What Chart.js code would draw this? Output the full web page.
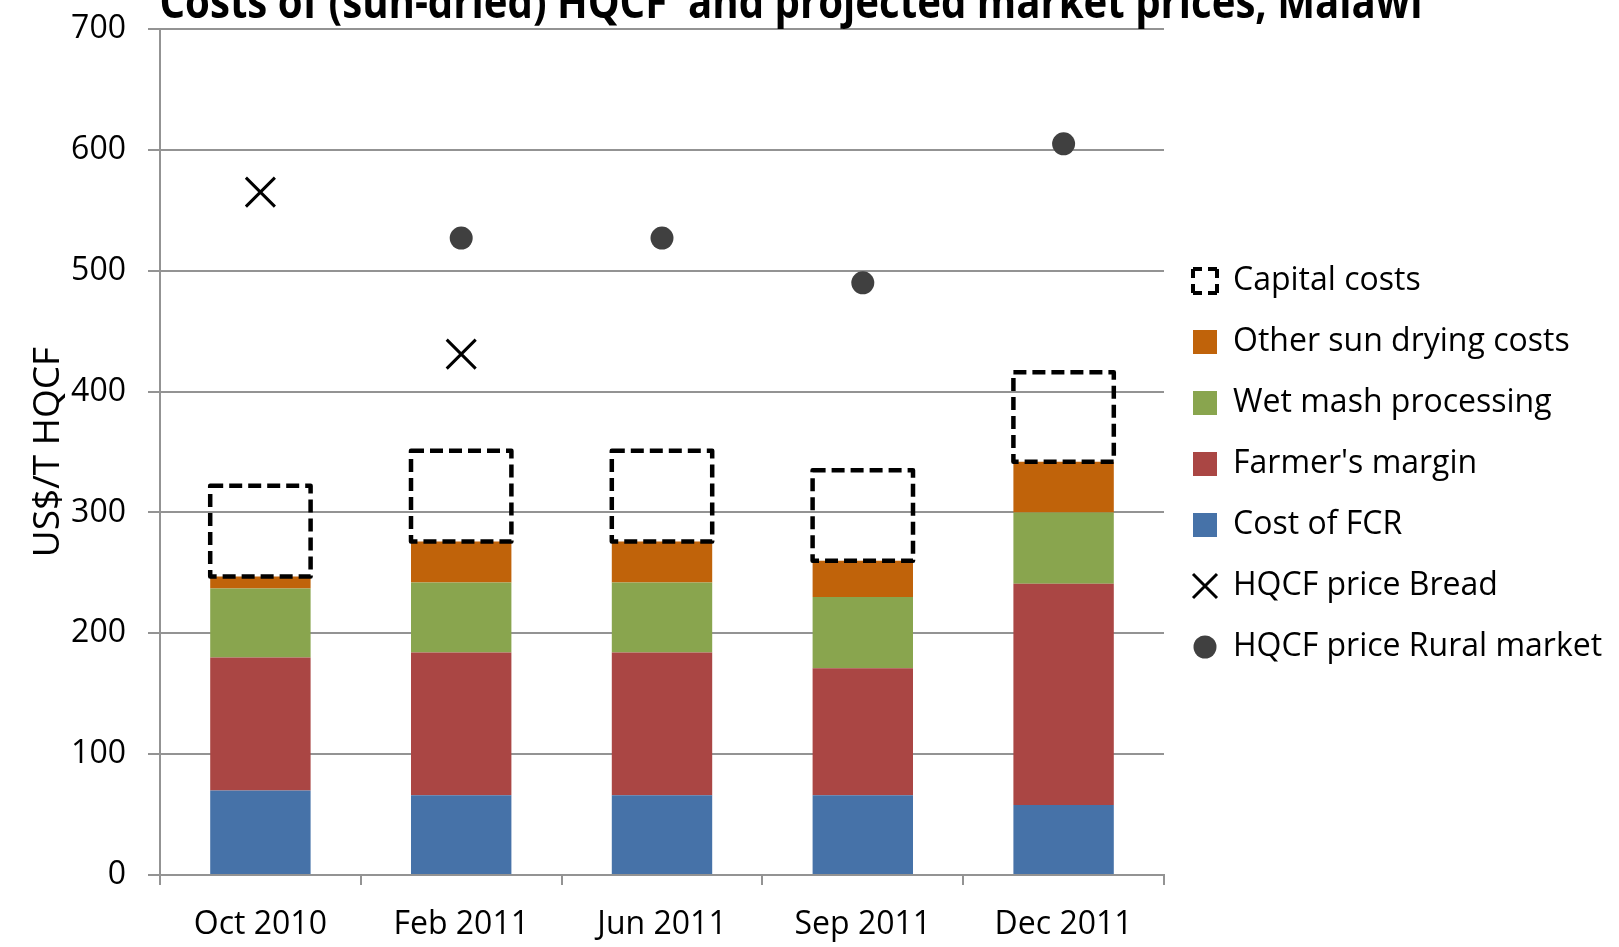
<!DOCTYPE html>
<html>
<head>
<meta charset="utf-8">
<script src="https://cdn.jsdelivr.net/npm/chart.js@4.4.1/dist/chart.umd.min.js"></script>
<style>
    html, body { margin: 0; padding: 0; background: #fff; overflow: hidden; }
    #grafico { display: block; }
</style>
</head>
<body>
<canvas id="grafico" width="1619" height="947" style="width:1619px;height:947px"></canvas>
<script>
// Datos del gráfico (US$/T HQCF)
const categorias = ['Oct 2010', 'Feb 2011', 'Jun 2011', 'Sep 2011', 'Dec 2011'];
const costoFCR = [70, 66, 66, 66, 58];
const margenAgricultor = [110, 118, 118, 105, 183];
const masaHumeda = [57, 58, 58, 59, 59];
const otrosSecado = [10, 34, 34, 30, 42];
const costosCapital = [75, 75, 75, 75, 74];
const precioPan = [565, 431, null, null, null];
const precioRural = [null, 527, 527, 490, 605];
const ticksY = [0, 100, 200, 300, 400, 500, 600, 700];
const titulo = 'Costs of (sun-dried) HQCF  and projected market prices, Malawi';

const fuente = "'Open Sans', sans-serif";
const gris = '#939393';

// Orden de la leyenda (índices de datasets)
const ordenLeyenda = [4, 3, 2, 1, 0, 5, 6];

// Punto redondo para la leyenda
const puntoLeyenda = document.createElement('canvas');
puntoLeyenda.width = 24;
puntoLeyenda.height = 24;
(function () {
    const c = puntoLeyenda.getContext('2d');
    c.fillStyle = '#404040';
    c.beginPath();
    c.arc(12, 12, 11.5, 0, Math.PI * 2);
    c.fill();
})();

// Plugin: título (cortado arriba como en el original, letra estrecha)
const tituloPlugin = {
    id: 'titulo',
    afterDraw(chart) {
        const ctx = chart.ctx;
        ctx.save();
        ctx.font = "bold 46px 'Open Sans', sans-serif";
        ctx.fillStyle = '#000';
        ctx.textAlign = 'center';
        ctx.textBaseline = 'alphabetic';
        const ancho = ctx.measureText(titulo).width;
        ctx.translate(791, 18);
        ctx.scale(1263 / ancho, 1);
        ctx.fillText(titulo, 0, 0);
        ctx.restore();
    }
};

// Plugin: la leyenda ocupa hasta el borde derecho y sube un poco
const leyendaPlugin = {
    id: 'ajusteLeyenda',
    beforeDraw(chart) {
        const leyenda = chart.legend;
        if (!leyenda) return;
        leyenda.right = chart.width;
        leyenda.width = leyenda.right - leyenda.left;
        leyenda.top -= 24;
        leyenda.bottom -= 24;
    }
};

// Plugin: costos de capital con borde punteado
const capitalPlugin = {
    id: 'capitalPunteado',
    afterDatasetsDraw(chart) {
        const ctx = chart.ctx;
        const meta = chart.getDatasetMeta(4);
        ctx.save();
        ctx.setLineDash([13, 6]);
        ctx.lineWidth = 4.5;
        ctx.lineJoin = 'round';
        ctx.strokeStyle = '#000';
        meta.data.forEach(barra => {
            const { x, y, base, width } = barra.getProps(['x', 'y', 'base', 'width'], true);
            ctx.strokeRect(x - width / 2, y, width, base - y);
        });
        ctx.restore();
    }
};

const barra = (label, data, color) => ({
    type: 'bar',
    label: label,
    data: data,
    backgroundColor: color,
    borderWidth: 0,
    categoryPercentage: 1,
    barPercentage: 0.5,
    stack: 'costos'
});

new Chart(document.getElementById('grafico'), {
    data: {
        labels: categorias,
        datasets: [
            barra('Cost of FCR', costoFCR, '#4672A8'),
            barra("Farmer's margin", margenAgricultor, '#AA4644'),
            barra('Wet mash processing', masaHumeda, '#89A54E'),
            barra('Other sun drying costs', otrosSecado, '#C0630A'),
            barra('Capital costs', costosCapital, 'rgba(0,0,0,0)'),
            {
                type: 'line',
                label: 'HQCF price Bread',
                data: precioPan,
                showLine: false,
                stack: 'pan',
                pointStyle: 'crossRot',
                pointRadius: 20.5,
                pointBorderWidth: 3,
                pointBorderColor: '#000',
                pointBackgroundColor: '#000',
                borderColor: '#000'
            },
            {
                type: 'line',
                label: 'HQCF price Rural market',
                data: precioRural,
                showLine: false,
                stack: 'rural',
                pointStyle: 'circle',
                pointRadius: 11.5,
                pointBorderWidth: 0,
                pointBackgroundColor: '#404040',
                borderColor: '#404040'
            }
        ]
    },
    options: {
        responsive: false,
        animation: false,
        layout: { padding: { top: 29, right: 67, bottom: 0, left: 0 } },
        scales: {
            x: {
                stacked: true,
                offset: true,
                afterFit: scale => { scale.height = 72; },
                grid: { offset: true, drawOnChartArea: false, color: gris, lineWidth: 2, tickLength: 10 },
                border: { color: gris, width: 2 },
                ticks: { color: '#000', font: { family: fuente, size: 32 }, padding: 21, maxRotation: 0 }
            },
            y: {
                stacked: true,
                min: 0,
                max: 700,
                afterBuildTicks: scale => { scale.ticks = ticksY.map(v => ({ value: v })); },
                afterFit: scale => {
                    scale.width = 160;
                    scale.paddingTop = 0;
                    scale.paddingBottom = 0;
                },
                grid: { color: gris, lineWidth: 2, tickLength: 12 },
                border: { color: gris, width: 2 },
                ticks: { color: '#000', font: { family: fuente, size: 32 }, padding: 22 },
                title: {
                    display: true,
                    text: 'US$/T HQCF',
                    color: '#000',
                    font: { family: fuente, size: 37 },
                    padding: { top: 26, bottom: 0 }
                }
            }
        },
        plugins: {
            title: { display: false },
            tooltip: { enabled: false },
            legend: {
                position: 'right',
                labels: {
                    color: '#000',
                    font: { family: fuente, size: 32 },
                    usePointStyle: true,
                    boxHeight: 24,
                    boxWidth: 24,
                    padding: 29,
                    generateLabels(chart) {
                        return ordenLeyenda.map(i => {
                            const ds = chart.data.datasets[i];
                            const item = {
                                text: ds.label,
                                datasetIndex: i,
                                hidden: false,
                                fontColor: '#000',
                                lineWidth: 0,
                                lineDash: [],
                                fillStyle: ds.backgroundColor,
                                strokeStyle: ds.backgroundColor,
                                pointStyle: 'rect'
                            };
                            if (i === 4) {
                                item.fillStyle = 'rgba(0,0,0,0)';
                                item.strokeStyle = '#000';
                                item.lineWidth = 4;
                                item.lineDash = [9, 6, 9, 0];
                            } else if (i === 5) {
                                item.pointStyle = 'crossRot';
                                item.strokeStyle = '#000';
                                item.lineWidth = 3;
                            } else if (i === 6) {
                                item.pointStyle = puntoLeyenda;
                            }
                            return item;
                        });
                    }
                }
            }
        }
    },
    plugins: [tituloPlugin, leyendaPlugin, capitalPlugin]
});
</script>
</body>
</html>
